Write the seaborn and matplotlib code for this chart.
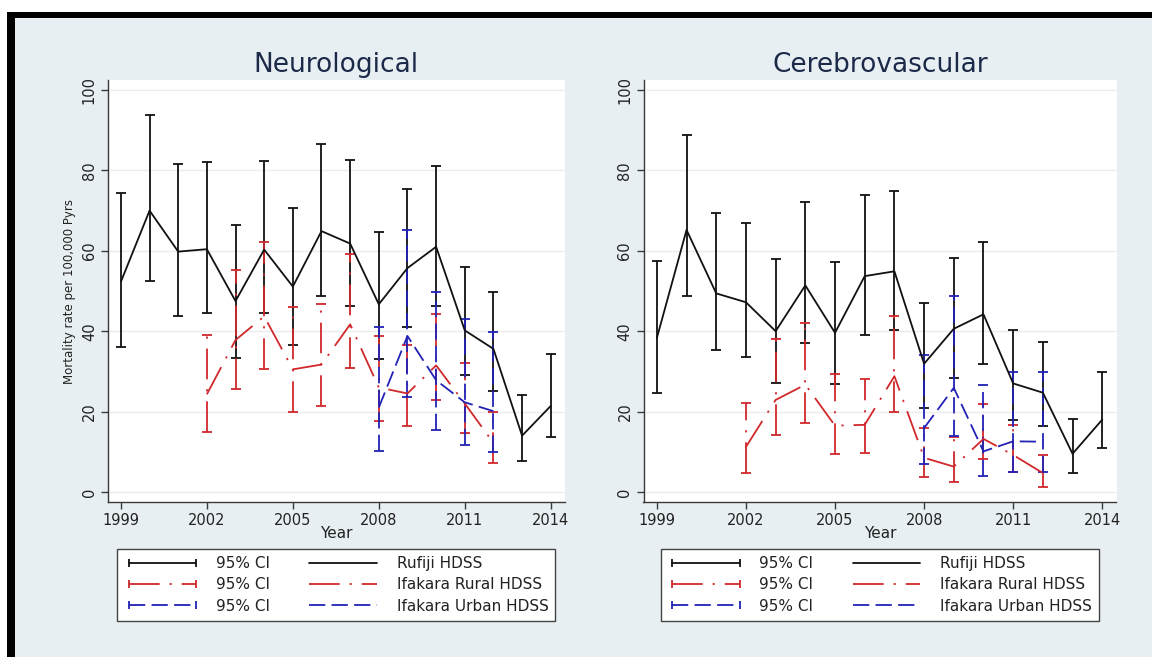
import matplotlib
matplotlib.use("Agg")
import matplotlib.pyplot as plt
from matplotlib.lines import Line2D
from matplotlib.patches import Rectangle
import numpy as np
import pandas as pd
import seaborn as sns

# ---------------------------------------------------------------- data
years_rufiji = list(range(1999, 2015))
years_rural = list(range(2002, 2013))
years_urban = list(range(2008, 2013))

# Neurological mortality (per 100,000 person-years) with 95% CI
neuro_rufiji = [52.3, 70.0, 59.8, 60.4, 47.5, 60.3, 51.1, 64.9, 61.8, 46.7, 55.7, 61.0, 40.2, 35.6, 14.0, 21.4]
neuro_rufiji_lo = [36.1, 52.6, 43.9, 44.5, 33.3, 44.6, 36.5, 48.7, 46.2, 33.1, 41.0, 46.2, 29.2, 25.2, 7.8, 13.7]
neuro_rufiji_hi = [74.5, 93.7, 81.5, 82.0, 66.5, 82.3, 70.6, 86.7, 82.6, 64.7, 75.3, 81.2, 56.0, 49.7, 24.0, 34.4]
neuro_rural = [24.3, 37.8, 43.7, 30.5, 31.7, 41.7, 26.0, 24.5, 31.5, 22.0, 12.2]
neuro_rural_lo = [14.8, 25.7, 30.7, 20.0, 21.3, 30.8, 17.7, 16.4, 23.0, 14.7, 7.1]
neuro_rural_hi = [39.1, 55.2, 62.1, 46.1, 46.7, 59.3, 38.9, 36.5, 44.2, 32.0, 20.0]
neuro_urban = [21.0, 38.8, 27.8, 22.3, 20.1]
neuro_urban_lo = [10.3, 23.7, 15.3, 11.8, 10.0]
neuro_urban_hi = [41.0, 65.2, 49.7, 43.0, 39.7]

# Cerebrovascular mortality (per 100,000 person-years) with 95% CI
cereb_rufiji = [38.3, 65.2, 49.4, 47.2, 40.0, 51.4, 39.6, 53.7, 54.9, 31.9, 40.6, 44.2, 27.0, 24.7, 9.5, 18.0]
cereb_rufiji_lo = [24.6, 48.8, 35.2, 33.5, 27.2, 37.0, 26.9, 39.1, 40.2, 20.8, 28.4, 31.8, 18.0, 16.5, 4.7, 10.9]
cereb_rufiji_hi = [57.5, 88.7, 69.4, 66.8, 57.9, 72.1, 57.1, 73.8, 74.8, 47.1, 58.2, 62.1, 40.2, 37.2, 18.2, 29.9]
cereb_rural = [11.2, 22.9, 26.7, 16.5, 16.7, 28.8, 8.5, 6.3, 13.2, 9.2, 4.7]
cereb_rural_lo = [4.8, 14.2, 17.2, 9.4, 9.6, 20.0, 3.8, 2.6, 8.2, 5.0, 1.3]
cereb_rural_hi = [22.1, 38.1, 42.1, 29.4, 28.2, 43.9, 15.8, 13.7, 21.9, 16.6, 9.2]
cereb_urban = [15.9, 25.9, 10.1, 12.6, 12.5]
cereb_urban_lo = [7.0, 14.0, 4.0, 5.0, 5.0]
cereb_urban_hi = [34.2, 48.8, 26.5, 29.8, 29.8]

sites = ["Rufiji HDSS", "Ifakara Rural HDSS", "Ifakara Urban HDSS"]
x_ticks = [1999, 2002, 2005, 2008, 2011, 2014]
y_ticks = [0, 20, 40, 60, 80, 100]

# ---------------------------------------------------------------- style
LW = 1.3
colors = {"Rufiji HDSS": "#111111",
          "Ifakara Rural HDSS": "#d1282c",
          "Ifakara Urban HDSS": "#2222b5"}
dash_units = {"Rufiji HDSS": "",
              "Ifakara Rural HDSS": (17, 5.5, 1.2, 5.5),
              "Ifakara Urban HDSS": (9, 3.5)}


def mpl_style(site):
    d = dash_units[site]
    if d == "":
        return "-"
    return (0, d)


BG = "#e8eff2"
AXC = "#3a3a3a"

sns.set_theme(style="white")
plt.rcParams["font.family"] = ["DejaVu Sans"]

W, H = 1152, 657
fig = plt.figure(figsize=(W / 100, H / 100), dpi=100)
fig.patch.set_facecolor(BG)

# outer frame: white margin, black band along top and left
for (x0, y0, w, h, c) in [
    (0, 1 - 12 / H, 1, 12 / H, "white"),
    (0, 0, 7 / W, 1, "white"),
    (7 / W, 1 - 18 / H, 1 - 7 / W, 6 / H, "black"),
    (7 / W, 0, 8 / W, 1 - 12 / H, "black"),
]:
    fig.patches.append(Rectangle((x0, y0), w, h, transform=fig.transFigure,
                                 facecolor=c, edgecolor="none", zorder=0))

ax_top, ax_bot = 80, 502
axes_px = [(108, 564.5), (643.5, 1116.5)]
axes = []
for (l, r) in axes_px:
    axes.append(fig.add_axes([l / W, (H - ax_bot) / H, (r - l) / W, (ax_bot - ax_top) / H]))

panels = [
    ("Neurological",
     [(years_rufiji, neuro_rufiji, neuro_rufiji_lo, neuro_rufiji_hi),
      (years_rural, neuro_rural, neuro_rural_lo, neuro_rural_hi),
      (years_urban, neuro_urban, neuro_urban_lo, neuro_urban_hi)]),
    ("Cerebrovascular",
     [(years_rufiji, cereb_rufiji, cereb_rufiji_lo, cereb_rufiji_hi),
      (years_rural, cereb_rural, cereb_rural_lo, cereb_rural_hi),
      (years_urban, cereb_urban, cereb_urban_lo, cereb_urban_hi)]),
]

for i, (ax, (title, series)) in enumerate(zip(axes, panels)):
    ax.set_facecolor("white")

    # confidence intervals as capped vertical bars
    for site, (yr, est, lo, hi) in zip(sites, series):
        est_a, lo_a, hi_a = np.array(est), np.array(lo), np.array(hi)
        eb = ax.errorbar(yr, est_a, yerr=[est_a - lo_a, hi_a - est_a], fmt="none",
                         ecolor=colors[site], elinewidth=LW, capsize=3.6,
                         capthick=LW, zorder=2)
        eb.lines[2][0].set_linestyle(mpl_style(site))

    # point estimates as connected lines
    df = pd.concat([pd.DataFrame({"Year": yr, "rate": est, "site": site})
                    for site, (yr, est, lo, hi) in zip(sites, series)],
                   ignore_index=True)
    sns.lineplot(data=df, x="Year", y="rate", hue="site", style="site",
                 hue_order=sites, style_order=sites, palette=colors,
                 dashes=dash_units, linewidth=LW, errorbar=None,
                 legend=False, ax=ax, zorder=3)

    ax.set_xlim(1998.55, 2014.48)
    ax.set_ylim(-2.5, 102.5)
    ax.set_xticks(x_ticks)
    ax.set_yticks(y_ticks)
    ax.yaxis.grid(True, color="#ececec", linewidth=1.0, zorder=0)
    ax.xaxis.grid(False)
    ax.set_axisbelow(True)
    for s in ["top", "right"]:
        ax.spines[s].set_visible(False)
    for s in ["left", "bottom"]:
        ax.spines[s].set_color(AXC)
        ax.spines[s].set_linewidth(1.0)
    ax.tick_params(axis="both", direction="out", length=5, width=1.0,
                   color=AXC, labelsize=10.5, labelcolor="#222222",
                   left=True, bottom=True)
    ax.tick_params(axis="y", pad=3)
    ax.tick_params(axis="x", pad=3)
    for lab in ax.get_yticklabels():
        lab.set_rotation(90)
        lab.set_va("center")

    ax.set_title(title, fontsize=19, color="#1c2a4a", pad=6)
    ax.set_xlabel("Year", fontsize=11, color="#222222")
    ax.xaxis.set_label_coords(0.5, -0.058)
    if i == 0:
        ax.set_ylabel("Mortality rate per 100,000 Pyrs", fontsize=8.5, color="#222222")
        ax.yaxis.set_label_coords(-0.07, 0.5)
    else:
        ax.set_ylabel("")

    # legend: CI keys in first column, line keys in second
    ci_handles = [Line2D([], [], color=colors[s], linestyle=mpl_style(s),
                         linewidth=LW, marker="|", markersize=6,
                         markeredgewidth=LW) for s in sites]
    line_handles = [Line2D([], [], color=colors[s], linestyle=mpl_style(s),
                           linewidth=LW) for s in sites]
    leg = ax.legend(ci_handles + line_handles,
                    ["95% CI"] * 3 + sites,
                    ncol=2, loc="upper center",
                    bbox_to_anchor=(0.5, -(549 - ax_bot) / (ax_bot - ax_top)),
                    frameon=True, fancybox=False, framealpha=1,
                    facecolor="white", edgecolor="#444444", fontsize=11,
                    handlelength=5.0, handletextpad=1.0, columnspacing=2.3,
                    labelspacing=0.42, borderpad=0.45, numpoints=2,
                    borderaxespad=0)
    leg.get_frame().set_linewidth(1.0)
    for t in leg.get_texts():
        t.set_color("#222222")

fig.savefig("out.png", dpi=100, facecolor=fig.get_facecolor())
